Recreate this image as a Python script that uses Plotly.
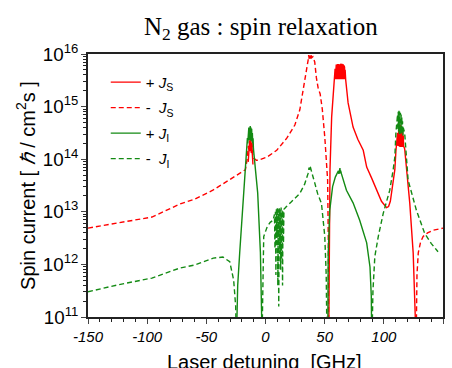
import plotly.graph_objects as go

# ---- data (log10 of spin current) ----
# - J_S  (red dashed); None separates segments
mjs_x = [-150, -125, -96, -72, -60, -44.5, -27.6, -20.4, -17, -15.5, -14.5, -14, -13.5, -13, -12.5, -12, -11.5, -11, -10, -7.7,
         -6.4, 1.2, 9.5, 18, 24.8, 29, 31.6, 35, 36, 36.5, 37, 37.5, 38, 38.5, 39, 40, 41.6, 43, 44.5, 46.2, 48, 50.1, 51.5, 52.5, 53.1, 53.4,
         None,
         127.3, 128, 129.1, 131, 133.2, 137, 141.6, 150]
mjs_y = [12.69, 12.79, 12.9, 13.15, 13.24, 13.41, 13.64, 13.74, 13.8, 14.0, 14.25, 14.15, 14.36, 14.22, 14.4, 14.18, 14.34, 14.1, 14.02, 13.98,
         13.98, 14.04, 14.17, 14.4, 14.65, 14.94, 15.26, 15.7, 15.88, 15.98, 15.9, 15.97, 15.91, 15.98, 15.93, 15.95, 15.85, 15.55, 15.35, 15.24, 14.95, 14.42, 14.0, 13.6, 12.4, 10.5,
         None,
         10.5, 11.8, 12.22, 12.42, 12.53, 12.6, 12.65, 12.69]

# + J_S  (red solid)
pjs_x = [-14.6, -14, -13.5, -13, -12.5, -12, -11.5, -11, -10.6,
         None,
         53.4, 53.7, 54.5, 55.9, 57.5, 58.5,
         58.8, 59.0, 59.3, 59.5, 59.8, 60.0, 60.3, 60.5, 60.8, 61.0, 61.3, 61.5, 61.8, 62.0, 62.3, 62.5, 62.8, 63.0, 63.3, 63.5,
         63.8, 64.0, 64.3, 64.5, 64.8, 65.0, 65.3, 65.5, 65.8, 66.0, 66.3, 66.5, 66.8, 67.0, 67.3,
         67.8, 69.8, 74, 78, 82.6, 85.5, 89.7, 93.8, 98, 102.3, 104, 105.5, 107.5, 109.3, 110.2, 111, 111.6,
         111.9, 112.2, 112.5, 112.8, 113.1, 113.4, 113.7, 114.0, 114.3, 114.6, 114.9, 115.2, 115.5, 115.8, 116.1, 116.4, 116.7,
         117.6, 119.3, 121.9, 124.8, 126, 127.3]
pjs_y = [13.95, 14.2, 14.32, 14.15, 14.38, 14.12, 14.3, 14.05, 13.9,
         None,
         10.5, 12.5, 13.8, 14.8, 15.35, 15.56,
         15.72, 15.52, 15.78, 15.53, 15.8, 15.52, 15.8, 15.53, 15.81, 15.52, 15.8, 15.53, 15.81, 15.52, 15.8, 15.53, 15.8, 15.52, 15.81, 15.53,
         15.8, 15.52, 15.81, 15.53, 15.8, 15.52, 15.8, 15.53, 15.79, 15.52, 15.78, 15.53, 15.75, 15.52, 15.7,
         15.5, 15.07, 14.61, 14.38, 14.17, 13.85, 13.64, 13.41, 13.2, 13.08, 13.1, 13.2, 13.5, 13.8, 14.15, 14.4, 14.5,
         14.25, 14.6, 14.25, 14.63, 14.24, 14.66, 14.23, 14.65, 14.24, 14.63, 14.23, 14.6, 14.24, 14.55, 14.23, 14.45, 14.25,
         14.2, 13.8, 13.17, 12.22, 11.6, 10.5]

# + J_I  (green solid)
pji_x = [-24.6, -23.5, -21.8, -19, -16.7, -16.1,
         -15.6, -15.3, -15.0, -14.7, -14.4, -14.1, -13.8, -13.5, -13.2, -12.9, -12.6, -12.3, -12.0, -11.7, -11.4, -11.1, -10.8, -10.5, -10.2,
         -9.5, -8.3, -6.6, -4.3, -3.1, -2.8,
         None,
         52.6, 53.0, 54.3, 56.7, 59, 61, 61.6, 62.0, 62.3, 62.6, 62.9, 63.2, 63.5, 64.2, 66, 68.4, 74, 79.6, 85.5, 88.3, 89.4, 89.8]
pji_y = [10.5, 11.6, 12.22, 13.17, 13.79, 14.0,
         14.2, 14.4, 14.3, 14.55, 14.35, 14.6, 14.36, 14.62, 14.37, 14.63, 14.36, 14.6, 14.35, 14.58, 14.33, 14.5, 14.3, 14.4, 14.2,
         14.05, 13.8, 13.36, 12.22, 11.13, 10.5,
         None,
         10.5, 12.2, 13.03, 13.48, 13.66, 13.74, 13.78, 13.72, 13.82, 13.74, 13.83, 13.73, 13.78, 13.72, 13.6, 13.41, 13.17, 12.84, 12.41, 11.95, 11.4, 10.5]

# - J_I  (green dashed)
mji_x = [-150, -125, -96, -72.4, -59.6, -44.1, -36, -30.2, -26.9, -25.2, -24.6,
         None,
         -3.0, -2.5, -1.5, 1.5, 4, 6.4, 7.6,
         8.0, 8.4, 8.8, 9.2, 9.6, 10.0, 10.4, 10.8, 11.2, 11.6, 12.0, 12.4, 12.8, 13.2, 13.6, 14.0, 14.4, 14.8, 15.2, 15.6,
         16.2, 17.7, 21.9, 29, 33, 36, 36.8, 37.3, 37.8, 38.4, 39.2, 41.6, 44, 47.3, 50.1, 51.3, 52.0,
         None,
         89.9, 90.8, 92.4, 95.3, 99.5, 105, 107.9, 109.3, 110.2, 111, 111.6,
         111.9, 112.2, 112.5, 112.8, 113.1, 113.4, 113.7, 114.0, 114.3, 114.6, 114.9, 115.2, 115.5, 115.8, 116.1, 116.4,
         117.6, 119.8, 120.5, 123, 127.5, 134.5, 140, 145.8]
mji_y = [11.48, 11.61, 11.74, 11.93, 11.99, 12.12, 12.14, 12.05, 11.7, 11.2, 10.5,
         None,
         10.5, 11.6, 12.53, 12.72, 12.8, 12.84, 12.95,
         12.3, 13.0, 11.8, 13.05, 12.5, 13.08, 11.6, 13.05, 11.2, 13.07, 12.2, 13.05, 11.9, 13.08, 12.1, 13.04, 11.6, 13.02, 12.4, 13.05,
         13.07, 13.1, 13.19, 13.35, 13.52, 13.73, 13.84, 13.8, 13.86, 13.8, 13.74, 13.55, 13.35, 13.16, 12.53, 11.8, 10.5,
         None,
         10.5, 11.5, 12.15, 12.53, 12.97, 13.41, 13.8, 14.04, 14.5, 14.7, 14.85,
         14.55, 14.9, 14.5, 14.92, 14.48, 14.9, 14.5, 14.88, 14.48, 14.85, 14.5, 14.8, 14.48, 14.72, 14.45, 14.6,
         14.5, 13.66, 13.6, 13.4, 13.03, 12.59, 12.4, 12.24]

x_ticks = [-150, -100, -50, 0, 50, 100, 150]


def lin(v):
    return [None if a is None else 10 ** a for a in v]


RED = "#ff0000"
GREEN = "#138a13"

fig = go.Figure()
fig.add_trace(go.Scatter(x=pjs_x, y=lin(pjs_y), mode="lines", name="+ <i>J</i><sub>S</sub>",
                         line=dict(color=RED, width=1.4), legendgroup="a"))
fig.add_trace(go.Scatter(x=mjs_x, y=lin(mjs_y), mode="lines", name="-  <i>J</i><sub>S</sub>",
                         line=dict(color=RED, width=1.4, dash="5px,3px"), legendgroup="b"))
fig.add_trace(go.Scatter(x=pji_x, y=lin(pji_y), mode="lines", name="+ <i>J</i><sub>I</sub>",
                         line=dict(color=GREEN, width=1.4), legendgroup="c"))
fig.add_trace(go.Scatter(x=mji_x, y=lin(mji_y), mode="lines", name="-  <i>J</i><sub>I</sub>",
                         line=dict(color=GREEN, width=1.4, dash="5px,3px"), legendgroup="d"))

fig.update_layout(
    width=452, height=368,
    margin=dict(l=88, r=9, t=54, b=51),
    paper_bgcolor="white", plot_bgcolor="white",
    font=dict(family="Liberation Sans, Arial, sans-serif", color="black", size=15),
    title=dict(text="N<sub>2</sub> gas : spin relaxation", xref="container", x=0.577, xanchor="center",
               yref="container", y=0.93, yanchor="middle",
               font=dict(family="Liberation Serif, Times New Roman, serif", size=25, color="black")),
    legend=dict(x=0.05, y=0.955, xanchor="left", yanchor="top", bgcolor="rgba(0,0,0,0)",
                borderwidth=0, font=dict(size=15), tracegroupgap=3),
    showlegend=True,
    annotations=[dict(text="Laser detuning  [GHz]", xref="paper", yref="paper", x=0.496, y=-0.172,
                      xanchor="center", yanchor="middle", showarrow=False, font=dict(size=20))],
)
fig.update_xaxes(range=[-150, 150], tickvals=x_ticks, ticktext=[str(v) for v in x_ticks],
                 ticks="outside", ticklen=5, tickwidth=1, showline=True, linecolor="#222", linewidth=1.5,
                 mirror=True, showgrid=False, zeroline=False, ticklabelstandoff=0, automargin=False,
                 tickfont=dict(size=15, style="italic"),
                 minor=dict(ticks="outside", ticklen=3, dtick=10, tickcolor="#222"))
fig.update_yaxes(type="log", range=[11, 16], dtick=1, exponentformat="power",
                 ticks="outside", ticklen=5, tickwidth=1, showline=True, linecolor="#222", linewidth=1.5,
                 mirror=True, showgrid=False, zeroline=False, tickfont=dict(size=15), automargin=False,
                 minor=dict(ticks="outside", ticklen=3, tickcolor="#222"),
                 title=dict(text="Spin current [ <i>ℏ</i> / cm<sup>2</sup>s ]", font=dict(size=20), standoff=2))

fig.write_html("out.html")
